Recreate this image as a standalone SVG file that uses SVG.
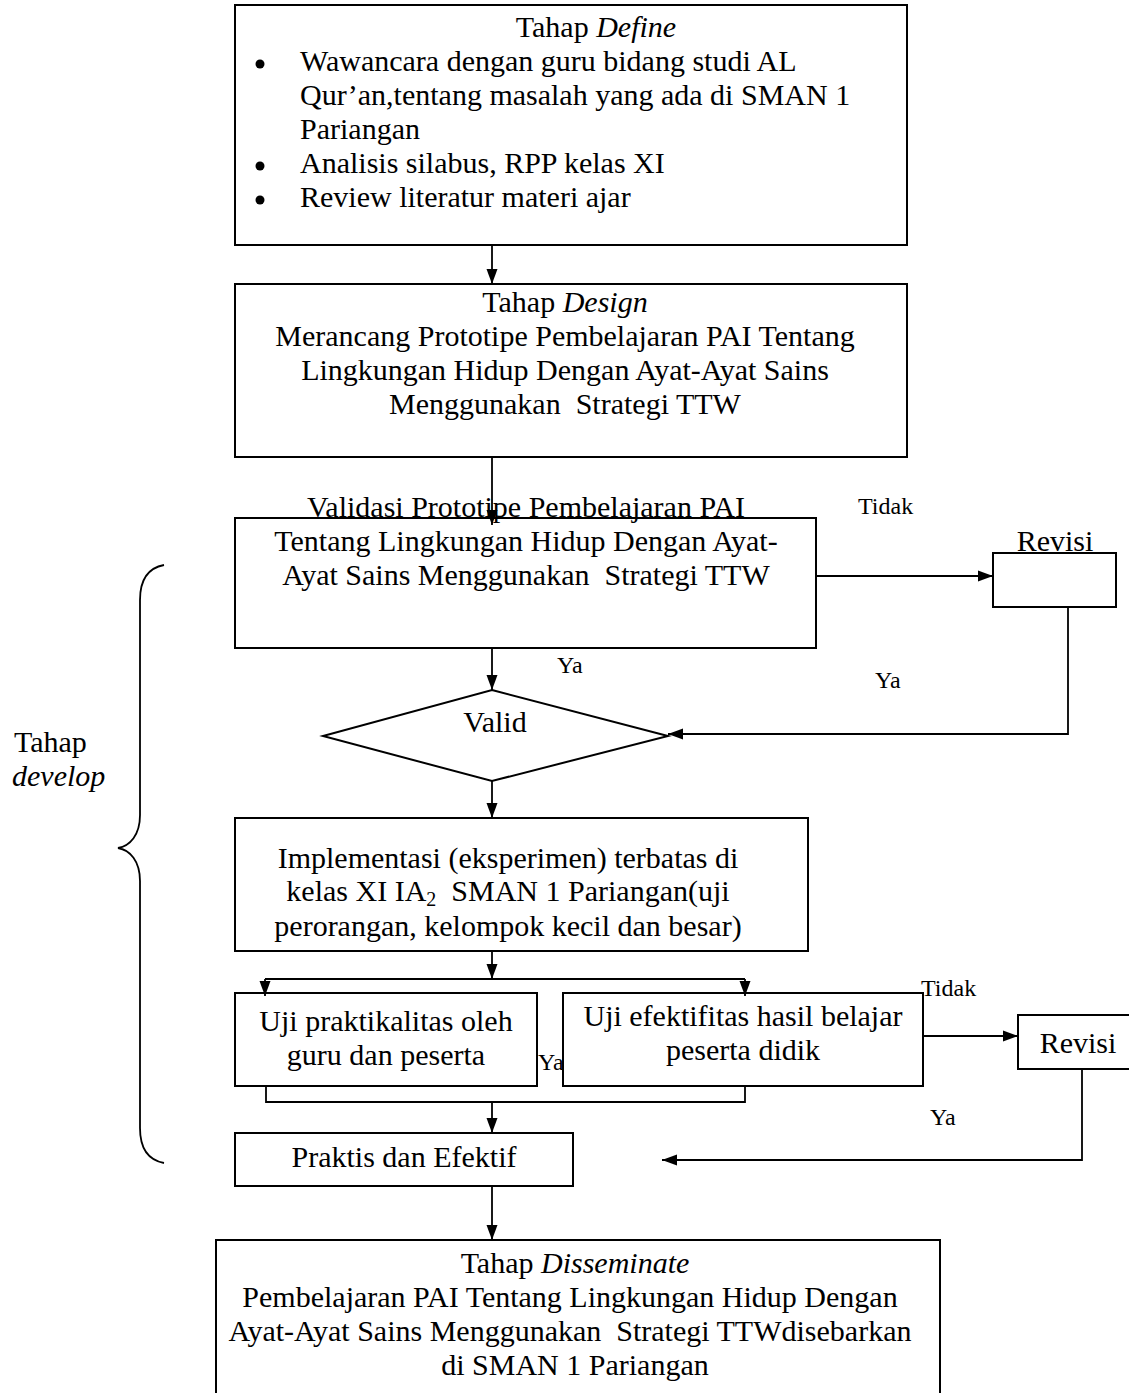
<svg xmlns="http://www.w3.org/2000/svg" width="1129" height="1393" viewBox="0 0 1129 1393">
<style>
text{font-family:"Liberation Serif","Times New Roman",serif;font-size:30px;fill:#000}
.c{text-anchor:middle}
.lbl{font-size:24px}
.box{fill:#fff;stroke:#000;stroke-width:2}
.ln{fill:none;stroke:#000;stroke-width:1.8}
</style>
<defs>
<marker id="ah" markerUnits="userSpaceOnUse" markerWidth="16" markerHeight="14" viewBox="0 0 16 14" refX="15" refY="7" orient="auto">
<path d="M0,1.5 L15,7 L0,12.5 Z" fill="#000"/>
</marker>
</defs>
<rect width="1129" height="1393" fill="#fff"/>

<g id="brace">
<path class="ln" stroke-width="1.5" d="M164,565 C148,568 140,580 140,600 L140,815 C140,835 130,846 118,848 C130,850 140,861 140,881 L140,1128 C140,1148 148,1160 164,1163"/>
<text x="14" y="752">Tahap</text>
<text x="12" y="786" font-style="italic">develop</text>
</g>

<g id="define">
<rect class="box" x="235" y="5" width="672" height="240"/>
<text class="c" x="596" y="37">Tahap <tspan font-style="italic">Define</tspan></text>
<circle cx="260" cy="64" r="4.5"/>
<text x="300" y="71">Wawancara dengan guru bidang studi AL</text>
<text x="300" y="105">Qur’an,tentang masalah yang ada di SMAN 1</text>
<text x="300" y="139">Pariangan</text>
<circle cx="260" cy="166" r="4.5"/>
<text x="300" y="173">Analisis silabus, RPP kelas XI</text>
<circle cx="260" cy="200" r="4.5"/>
<text x="300" y="207">Review literatur materi ajar</text>
</g>

<g id="design">
<rect class="box" x="235" y="284" width="672" height="173"/>
<text class="c" x="565" y="312">Tahap <tspan font-style="italic">Design</tspan></text>
<text class="c" x="565" y="346">Merancang Prototipe Pembelajaran PAI Tentang</text>
<text class="c" x="565" y="380">Lingkungan Hidup Dengan Ayat-Ayat Sains</text>
<text class="c" x="565" y="414" xml:space="preserve">Menggunakan  Strategi TTW</text>
</g>

<g id="validasi">
<rect class="box" x="235" y="518" width="581" height="130"/>
<text class="c" x="526" y="517">Validasi Prototipe Pembelajaran PAI</text>
<text class="c" x="526" y="551">Tentang Lingkungan Hidup Dengan Ayat-</text>
<text class="c" x="526" y="585" xml:space="preserve">Ayat Sains Menggunakan  Strategi TTW</text>
</g>

<g id="revisi1">
<rect class="box" x="993" y="553" width="123" height="54"/>
<text class="c" x="1055" y="551">Revisi</text>
</g>

<g id="valid">
<polygon class="box" points="492,690 668,736 492,781 323,736"/>
<text class="c" x="495" y="732">Valid</text>
</g>

<g id="implementasi">
<rect class="box" x="235" y="818" width="573" height="133"/>
<text class="c" x="508" y="868">Implementasi (eksperimen) terbatas di</text>
<text class="c" x="508" y="901" xml:space="preserve">kelas XI IA<tspan font-size="20" dy="5">2</tspan><tspan dy="-5">  SMAN 1 Pariangan(uji</tspan></text>
<text class="c" x="508" y="936">perorangan, kelompok kecil dan besar)</text>
</g>

<g id="uji-praktikalitas">
<rect class="box" x="235" y="993" width="302" height="93"/>
<text class="c" x="386" y="1031">Uji praktikalitas oleh</text>
<text class="c" x="386" y="1065">guru dan peserta</text>
</g>

<text class="lbl" x="538" y="1070">Ya</text>

<g id="uji-efektifitas">
<rect class="box" x="563" y="993" width="360" height="93"/>
<text class="c" x="743" y="1026">Uji efektifitas hasil belajar</text>
<text class="c" x="743" y="1060">peserta didik</text>
</g>

<g id="revisi2">
<rect class="box" x="1018" y="1015" width="120" height="54"/>
<text class="c" x="1078" y="1053">Revisi</text>
</g>

<g id="praktis">
<rect class="box" x="235" y="1133" width="338" height="53"/>
<text class="c" x="404" y="1167">Praktis dan Efektif</text>
</g>

<g id="disseminate">
<rect class="box" x="216" y="1240" width="724" height="170"/>
<text class="c" x="575" y="1273">Tahap <tspan font-style="italic">Disseminate</tspan></text>
<text class="c" x="570" y="1307">Pembelajaran PAI Tentang Lingkungan Hidup Dengan</text>
<text class="c" x="570" y="1341" xml:space="preserve">Ayat-Ayat Sains Menggunakan  Strategi TTWdisebarkan</text>
<text class="c" x="575" y="1375">di SMAN 1 Pariangan</text>
</g>

<g id="connectors">
<line class="ln" x1="492" y1="245" x2="492" y2="284" marker-end="url(#ah)"/>
<line class="ln" x1="492" y1="457" x2="492" y2="525" marker-end="url(#ah)"/>
<line class="ln" x1="816" y1="576" x2="993" y2="576" marker-end="url(#ah)"/>
<polyline class="ln" points="1068,607 1068,734 668,734" marker-end="url(#ah)"/>
<line class="ln" x1="492" y1="648" x2="492" y2="690" marker-end="url(#ah)"/>
<line class="ln" x1="492" y1="781" x2="492" y2="818" marker-end="url(#ah)"/>
<line class="ln" x1="492" y1="951" x2="492" y2="979" marker-end="url(#ah)"/>
<line class="ln" x1="265" y1="979" x2="745" y2="979"/>
<line class="ln" x1="265" y1="979" x2="265" y2="996" marker-end="url(#ah)"/>
<line class="ln" x1="745" y1="979" x2="745" y2="996" marker-end="url(#ah)"/>
<polyline class="ln" points="266,1086 266,1102 745,1102 745,1086"/>
<line class="ln" x1="492" y1="1102" x2="492" y2="1133" marker-end="url(#ah)"/>
<line class="ln" x1="923" y1="1036" x2="1018" y2="1036" marker-end="url(#ah)"/>
<polyline class="ln" points="1082,1069 1082,1160 662,1160" marker-end="url(#ah)"/>
<line class="ln" x1="492" y1="1186" x2="492" y2="1240" marker-end="url(#ah)"/>
<text class="lbl" x="858" y="514">Tidak</text>
<text class="lbl" x="557" y="673">Ya</text>
<text class="lbl" x="875" y="688">Ya</text>
<text class="lbl" x="921" y="996">Tidak</text>
<text class="lbl" x="930" y="1125">Ya</text>
</g>
</svg>
